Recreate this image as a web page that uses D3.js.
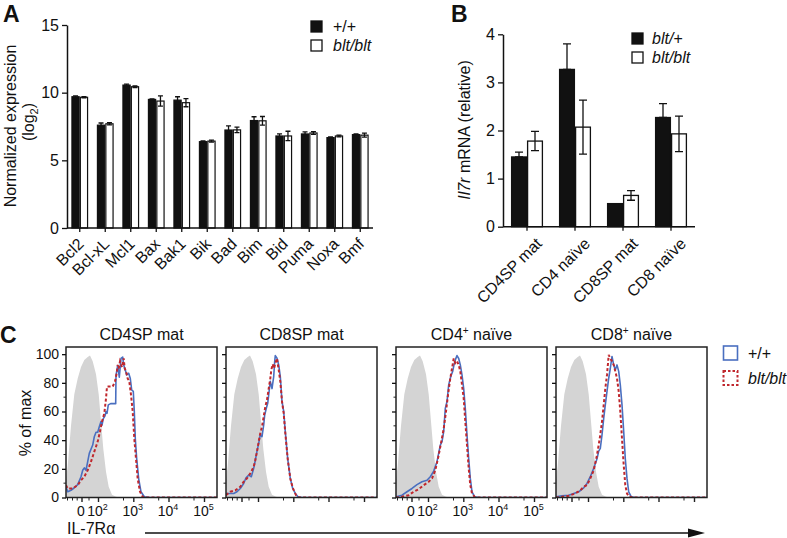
<!DOCTYPE html>
<html><head><meta charset="utf-8">
<script src="https://cdn.jsdelivr.net/npm/d3@7"></script>
<style>
body{margin:0;background:#fff}
svg{display:block}
text{font-family:"Liberation Sans",Arial,Helvetica,sans-serif;fill:#111}
</style>
</head><body>
<svg id="fig" width="787" height="538"></svg>
<script>
// ---------------- DATA ----------------
// Panel A
const genes = ["Bcl2","Bcl-xL","Mcl1","Bax","Bak1","Bik","Bad","Bim","Bid","Puma","Noxa","Bmf"];
const wtA     = [9.70, 7.60, 10.56, 9.50, 9.45, 6.38, 7.24, 7.94, 6.80, 6.95, 6.68, 6.90];
const wtAErr  = [0.06, 0.16, 0.07, 0.04, 0.25, 0.05, 0.30, 0.28, 0.15, 0.15, 0.05, 0.05];
const bltA    = [9.66, 7.70, 10.44, 9.38, 9.26, 6.42, 7.25, 7.92, 6.80, 7.02, 6.80, 6.86];
const bltAErr = [0.04, 0.08, 0.06, 0.38, 0.30, 0.07, 0.20, 0.32, 0.35, 0.10, 0.06, 0.15];
const ticksA  = [0, 5, 10, 15];
const legendA = ["+/+", "blt/blt"];

// Panel B
const cellTypes = ["CD4SP mat","CD4 naïve","CD8SP mat","CD8 naïve"];
const hetB     = [1.45, 3.27, 0.48, 2.27];
const hetBErr  = [0.10, 0.53, 0.00, 0.29];
const bltB     = [1.78, 2.07, 0.65, 1.93];
const bltBErr  = [0.20, 0.56, 0.10, 0.37];
const ticksB   = [0, 1, 2, 3, 4];
const legendB  = ["blt/+", "blt/blt"];

// Panel C (x = display channel 0..151, y = % of max)
const flowTitles = [["CD4SP mat",""],["CD8SP mat",""],["CD4","naïve"],["CD8","naïve"]];
const ticksCy = [0, 20, 40, 60, 80, 100];
const minorCy = [10, 30, 50, 70, 90];
const ticksCx = [16, 32.5, 67.8, 103, 138.5];
const ticksCxLabels = [["0",""],["10","2"],["10","3"],["10","4"],["10","5"]];
const minorCx = [1.5, 6.5, 11.2, 23, 57.5, 92.7, 128];
const legendC = ["+/+", "blt/blt"];

const grayHist = [[0,12],[1.7,22],[5,50],[8.3,72],[11.7,83],[15,91],[18.3,96],[21.7,98],[24,99],[26.7,95],[30,86],[32.7,72],[35,53],[37.3,34],[40,18],[42.7,7.5],[46,2],[50,0.5],[55,0],[151,0]];

const blueHist = [
 [[0,7.5],[1.7,4],[5,5],[8.3,6.8],[11.7,9],[15,14.5],[16.7,19],[18.3,20.7],[20,19],[21.7,25],[23.3,30.8],[26.7,36.6],[28.3,42.4],[30,45.5],[31.7,45.5],[33.3,49.4],[35,53],[36,50.6],[37.3,55],[39,57],[40,60],[41,58.7],[42.3,64.6],[44.7,65.5],[49.7,65.5],[50,85],[51.7,92],[53.3,84],[55,97],[56.7,98],[57.7,92.5],[59.3,89],[60.7,85.5],[62.7,86.7],[64.3,83],[65.7,75],[67.3,74],[68.3,60],[69.3,41],[70.7,27],[72.7,13],[75,4],[78.3,0.5],[83.3,0],[151,0]],
 [[0,2.8],[7.7,2.8],[11,4],[14.3,6.3],[17.7,9.8],[20,13.8],[22.7,15.6],[25.3,14.5],[27.7,20.3],[29.3,26],[31,32.4],[32.7,37.8],[34.3,44],[36,42.4],[37.7,50.6],[38.7,57.6],[40.3,62.2],[41.7,65.7],[42.7,71.6],[44.3,81],[46,76],[47.7,84.4],[48.7,95],[49.3,99],[51,97.2],[52.7,92.5],[54.3,84.4],[56,67],[57.7,60],[59.3,46],[61.7,27],[64.3,13.3],[66.7,6.3],[69.3,2.8],[72,0.5],[76,0],[151,0]],
 [[0,0.5],[6,1.6],[11,4],[16,6.3],[21,9],[26,11],[31,12],[34.3,14.5],[37.7,18.4],[41,25],[44.3,36.6],[46,39],[47.7,46],[49.3,62.2],[51,67],[52.7,78.6],[54.3,83.2],[55.3,85.5],[56.7,88],[58,92.5],[59.3,96],[61,99],[62.7,97],[64.3,92.5],[66,85.5],[67.7,76],[69.3,62],[71,43.6],[72.7,27],[74.3,13.3],[76,4],[78.7,0.5],[82.7,0],[151,0]],
 [[0,0.5],[6,1.2],[12.7,1.6],[17.7,2.8],[22.7,4],[27.7,6.8],[31,9.8],[34.3,14.5],[37.7,20.3],[41,27],[42.7,32.4],[44.3,34.3],[46,43.6],[47.7,55.2],[49.3,64.6],[51,74],[52.7,83.2],[54.3,90],[56,98.4],[57.7,92.5],[59.3,89],[61,92.5],[62.7,88],[64.3,78.6],[66,64.6],[67.7,46],[69.3,27],[71,13.3],[72.7,4],[75.3,0.5],[79.3,0],[151,0]]
];
const redHist = [
 [[0,8.6],[1.7,6.3],[6.7,6.3],[11.7,8.6],[15,12],[18.3,14.5],[21.7,19],[25,25],[28.3,32],[31.7,39],[34,46],[36,53],[38.3,58.7],[40,69],[41,77.4],[43.3,77.4],[46.7,77.4],[49,81],[50.7,86.7],[51.7,92.5],[52.7,90],[54,95],[56,91],[57.7,97],[58.7,90],[60,88],[61.7,83],[63.3,81],[65,71.6],[66.7,60],[68.3,41],[70,27],[71.7,13],[74,4],[76.7,0.5],[80,0],[151,0]],
 [[0,1.6],[4.3,4],[9.3,5],[14.3,7.5],[17.7,11],[21,13.3],[24.3,16.8],[27.7,21.4],[29.3,26],[31,32],[32.7,39],[34.3,44.8],[36,49.4],[37.7,56.4],[39.3,63.4],[41,68],[42.7,76],[44.3,83],[45.3,89],[46.7,93],[48,90],[49.3,93.7],[51,97],[52.7,89],[54.3,81],[56,67],[57.7,58.7],[59.3,44.8],[61.7,27],[64.3,13.3],[66.7,6.8],[70,1.6],[73.3,0],[151,0]],
 [[0,0],[6,0.5],[12.7,1.6],[17.7,4],[22.7,5.8],[27.7,8.6],[32.7,11],[36,13.3],[39.3,19],[42.7,29.6],[45.3,39],[47.7,48],[50,60],[52,71.6],[54.3,83.2],[56,90],[57.7,97],[59.3,93.7],[61,95],[62.7,92.5],[64.3,88],[66,78.6],[67.7,69],[69.3,53],[71,36.6],[72.7,20.3],[74.3,8.6],[76,2.8],[78.7,0.5],[82,0],[151,0]],
 [[0,0],[6,0.5],[12.7,1.2],[19.3,2.8],[24.3,5],[27.7,7.5],[31,8.6],[34.3,13.3],[37.7,19],[41,29.6],[43.7,41],[46,53],[47.7,64.6],[49.3,76],[51,85.5],[52.7,99.5],[54.3,97],[56,95],[57.7,92.5],[59.3,88],[61,83.2],[62.7,74],[64.3,60],[66,41],[67.7,22.6],[69.3,8.6],[71,2.8],[73.3,0.5],[77.7,0],[151,0]]
];

// ---------------- DRAW ----------------
const svg = d3.select("#fig");
const FS = 16;
const BLUE = "#4a6fc0", RED = "#c0272d", GRAY = "#d4d4d4";

function styleAxis(g, fs){
  g.selectAll(".domain").attr("stroke","#111").attr("stroke-width",1.5);
  g.selectAll(".tick line").attr("stroke","#111").attr("stroke-width",1.3);
  g.selectAll("text").attr("font-size",fs).attr("fill","#111").attr("font-family",'"Liberation Sans",Arial,sans-serif');
}
function errBar(g, cx, yTop, yBot, w){
  const p = d3.path();
  p.moveTo(cx, yTop); p.lineTo(cx, yBot);
  p.moveTo(cx - w/2, yTop); p.lineTo(cx + w/2, yTop);
  p.moveTo(cx - w/2, yBot); p.lineTo(cx + w/2, yBot);
  g.append("path").attr("d", p.toString()).attr("stroke","#111").attr("stroke-width",1.3).attr("fill","none");
}
function italicLegend(t, s){
  const parts = s.split("/");
  parts.forEach((p,i)=>{
    t.append("tspan").attr("font-style", "italic").text((i? "/" : "") + p);
  });
}

// ---- Panel A ----
const xA = d3.scaleBand().domain(genes).range([67, 373]).paddingInner(0.34).paddingOuter(0.17);
const xAs = d3.scaleBand().domain([0,1]).range([0, xA.bandwidth()]);
const yA = d3.scaleLinear().domain([0, 15]).range([228, 25]);
const gA = svg.append("g");
genes.forEach((g,i)=>{
  const x0 = xA(g);
  [[wtA,wtAErr,"#111"],[bltA,bltAErr,"#fff"]].forEach(([vals,errs,fill],k)=>{
    const bx = x0 + xAs(k), bw = xAs.bandwidth();
    gA.append("rect").attr("x", bx+0.6).attr("y", yA(vals[i])).attr("width", bw-1.2)
      .attr("height", yA(0)-yA(vals[i])).attr("fill", fill).attr("stroke","#111").attr("stroke-width",1.2);
    errBar(gA, bx + bw/2, yA(vals[i]+errs[i]), yA(vals[i]-errs[i]), 5);
  });
});
const axAy = gA.append("g").attr("transform","translate(67,0)")
  .call(d3.axisLeft(yA).tickValues(ticksA).tickSize(5).tickPadding(3).tickSizeOuter(0).tickFormat(d3.format("d")));
styleAxis(axAy, FS);
const axAx = gA.append("g").attr("transform","translate(0,228)")
  .call(d3.axisBottom(xA).tickSize(4).tickSizeOuter(0));
styleAxis(axAx, FS);
axAx.select(".domain").attr("d","M67,0H373");
axAx.selectAll("text").attr("x",0).attr("y",0).attr("dy","0.35em").attr("text-anchor","end")
  .attr("transform","translate(1,13) rotate(-45)");
svg.append("text").attr("transform","translate(16,126) rotate(-90)").attr("text-anchor","middle")
  .attr("font-size",FS).text("Normalized expression");
const lg2 = svg.append("text").attr("transform","translate(34,122) rotate(-90)").attr("text-anchor","middle").attr("font-size",FS);
lg2.append("tspan").text("(log");
lg2.append("tspan").attr("font-size",11).attr("dy",4).text("2");
lg2.append("tspan").attr("dy",-4).text(")");
svg.append("text").attr("x",3).attr("y",21.5).attr("font-size",23).attr("font-weight","bold").text("A");
legendA.forEach((s,i)=>{
  svg.append("rect").attr("x",311).attr("y",21+i*19).attr("width",11).attr("height",11)
    .attr("fill", i? "#fff":"#111").attr("stroke","#111").attr("stroke-width",1.3);
  const t = svg.append("text").attr("x",333).attr("y",32+i*19).attr("font-size",FS);
  if(i===0) t.text(s); else italicLegend(t, s);
});

// ---- Panel B ----
const xB = d3.scaleBand().domain(cellTypes).range([503, 695]).paddingInner(1/3).paddingOuter(1/6);
const xBs = d3.scaleBand().domain([0,1]).range([0, xB.bandwidth()]);
const yB = d3.scaleLinear().domain([0, 4]).range([226.7, 34.3]);
const gB = svg.append("g");
cellTypes.forEach((c,i)=>{
  const x0 = xB(c);
  [[hetB,hetBErr,"#111"],[bltB,bltBErr,"#fff"]].forEach(([vals,errs,fill],k)=>{
    const bx = x0 + xBs(k), bw = xBs.bandwidth();
    gB.append("rect").attr("x", bx+0.6).attr("y", yB(vals[i])).attr("width", bw-1.2)
      .attr("height", yB(0)-yB(vals[i])).attr("fill", fill).attr("stroke","#111").attr("stroke-width",1.3);
    if(errs[i]>0){
      if(k===0) errBar(gB, bx + bw/2, yB(vals[i]+errs[i]), yB(vals[i]), 8);
      else errBar(gB, bx + bw/2, yB(vals[i]+errs[i]), yB(vals[i]-errs[i]), 8);
    }
  });
});
const axBy = gB.append("g").attr("transform","translate(503,0)")
  .call(d3.axisLeft(yB).tickValues(ticksB).tickSize(5).tickPadding(3).tickSizeOuter(0).tickFormat(d3.format("d")));
styleAxis(axBy, FS);
const axBx = gB.append("g").attr("transform","translate(0,226.7)")
  .call(d3.axisBottom(xB).tickSize(4).tickSizeOuter(0));
styleAxis(axBx, FS);
axBx.select(".domain").attr("d","M503,0H695");
axBx.selectAll("text").attr("x",0).attr("y",0).attr("dy","0.35em").attr("text-anchor","end")
  .attr("transform","translate(12,14) rotate(-45)");
const bl = svg.append("text").attr("transform","translate(470,130) rotate(-90)").attr("text-anchor","middle").attr("font-size",FS);
bl.append("tspan").attr("font-style","italic").text("Il7r");
bl.append("tspan").text(" mRNA (relative)");
svg.append("text").attr("x",451).attr("y",21.5).attr("font-size",23).attr("font-weight","bold").text("B");
legendB.forEach((s,i)=>{
  svg.append("rect").attr("x",632).attr("y",33+i*19).attr("width",11).attr("height",11)
    .attr("fill", i? "#fff":"#111").attr("stroke","#111").attr("stroke-width",1.3);
  const t = svg.append("text").attr("x",652).attr("y",44+i*19).attr("font-size",FS);
  italicLegend(t, s);
});

// ---- Panel C ----
svg.append("text").attr("x",0).attr("y",343).attr("font-size",23).attr("font-weight","bold").text("C");
const panelX = [66, 226, 396, 556];
const PW = 151;
const yC = d3.scaleLinear().domain([0, 105]).range([497.5, 347]);
const defs = svg.append("defs");
panelX.forEach((px,i)=>{
  const xC = d3.scaleLinear().domain([0, 151]).range([px, px+PW]);
  const g = svg.append("g");
  defs.append("clipPath").attr("id","cp"+i).append("rect").attr("x",px).attr("y",347).attr("width",PW).attr("height",150.5);
  const inner = g.append("g").attr("clip-path",`url(#cp${i})`);
  inner.append("path").datum(grayHist)
    .attr("d", d3.area().x(d=>xC(d[0])).y0(yC(0)).y1(d=>yC(d[1])))
    .attr("fill", GRAY);
  inner.append("path").datum(blueHist[i])
    .attr("d", d3.line().x(d=>xC(d[0])).y(d=>yC(d[1])))
    .attr("fill","none").attr("stroke",BLUE).attr("stroke-width",1.6).attr("stroke-linejoin","round");
  inner.append("path").datum(redHist[i])
    .attr("d", d3.line().x(d=>xC(d[0])).y(d=>yC(d[1])))
    .attr("fill","none").attr("stroke",RED).attr("stroke-width",2).attr("stroke-dasharray","3,2.2");
  g.append("rect").attr("x",px).attr("y",347).attr("width",PW).attr("height",150.5)
    .attr("fill","none").attr("stroke","#222").attr("stroke-width",1.5);
  const ay = g.append("g").attr("transform",`translate(${px},0)`)
    .call(d3.axisLeft(yC).tickValues(ticksCy).tickSize(4).tickPadding(3).tickSizeOuter(0).tickFormat(i===0? d3.format("d") : ()=>""));
  styleAxis(ay, 14);
  ay.select(".domain").remove();
  minorCy.forEach(v=>g.append("line").attr("x1",px-2.5).attr("x2",px).attr("y1",yC(v)).attr("y2",yC(v)).attr("stroke","#222").attr("stroke-width",1));
  ticksCx.forEach((v,j)=>{
    g.append("line").attr("x1",xC(v)).attr("x2",xC(v)).attr("y1",497.5).attr("y2",502).attr("stroke","#222").attr("stroke-width",1.4);
    if(i===0 || i===2){
      const t = g.append("text").attr("x",xC(v)-1).attr("y",516).attr("text-anchor","middle").attr("font-size",14);
      t.append("tspan").text(ticksCxLabels[j][0]);
      if(ticksCxLabels[j][1]) t.append("tspan").attr("font-size",9).attr("dy",-6).text(ticksCxLabels[j][1]);
    }
  });
  minorCx.forEach(v=>g.append("line").attr("x1",xC(v)).attr("x2",xC(v)).attr("y1",497.5).attr("y2",500.5).attr("stroke","#222").attr("stroke-width",1));
  const tt = g.append("text").attr("x",px+PW/2).attr("y",340).attr("text-anchor","middle").attr("font-size",FS);
  if(flowTitles[i][1]){
    tt.append("tspan").text(flowTitles[i][0]);
    tt.append("tspan").attr("font-size",10).attr("dy",-6).text("+");
    tt.append("tspan").attr("dy",6).text(" " + flowTitles[i][1]);
  } else tt.text(flowTitles[i][0]);
});
svg.append("text").attr("transform","translate(31,423) rotate(-90)").attr("text-anchor","middle").attr("font-size",FS).text("% of max");
svg.append("text").attr("x",67).attr("y",534).attr("font-size",FS).text("IL-7Rα");
svg.append("line").attr("x1",145).attr("x2",690).attr("y1",533).attr("y2",533).attr("stroke","#111").attr("stroke-width",1.5);
svg.append("path").attr("d","M688,528.5L705,533L688,537.5Z").attr("fill","#111");
legendC.forEach((s,i)=>{
  svg.append("rect").attr("x",723.5).attr("y",346+i*25).attr("width",14).attr("height",14)
    .attr("fill","none").attr("stroke", i? RED : BLUE).attr("stroke-width", i?2:1.6)
    .attr("stroke-dasharray", i? "2.5,2" : null);
  const t = svg.append("text").attr("x",748).attr("y",359+i*25).attr("font-size",FS);
  if(i===0) t.text(s); else italicLegend(t, s);
});
</script>
</body></html>
